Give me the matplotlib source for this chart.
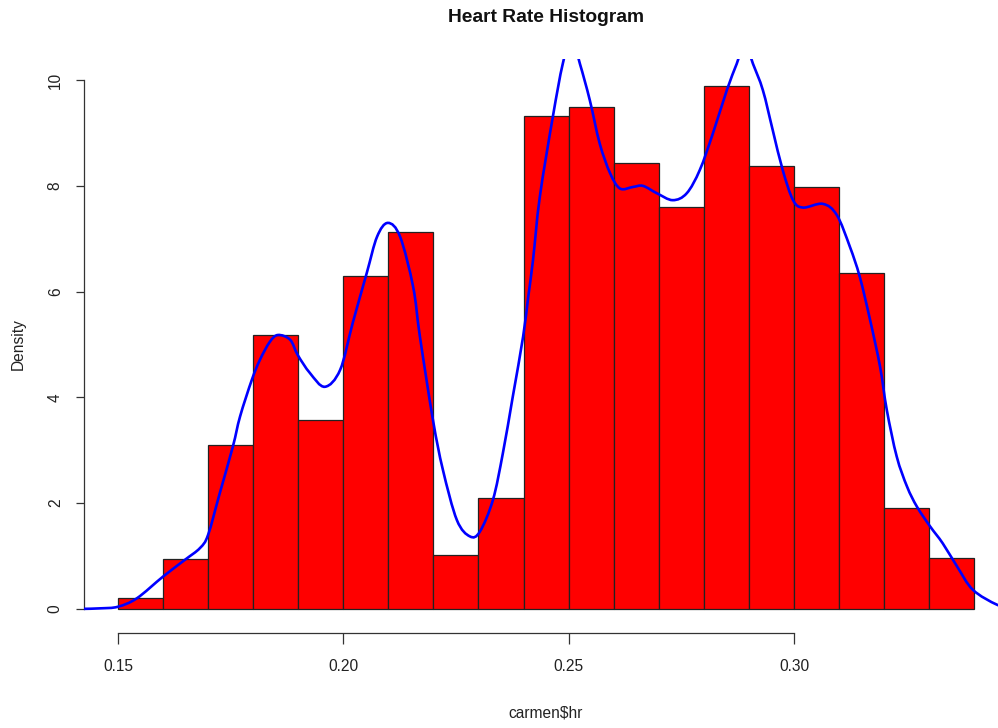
import matplotlib
matplotlib.use("Agg")
import matplotlib.pyplot as plt
from matplotlib import font_manager
from matplotlib.path import Path
from matplotlib.patches import PathPatch

# ---- data ----
bin_left = [0.15, 0.16, 0.17, 0.18, 0.19, 0.20, 0.21, 0.22, 0.23, 0.24,
            0.25, 0.26, 0.27, 0.28, 0.29, 0.30, 0.31, 0.32, 0.33]
density = [0.20, 0.95, 3.10, 5.18, 3.58, 6.30, 7.12, 1.02, 2.10, 9.32,
           9.50, 8.43, 7.60, 9.88, 8.38, 7.98, 6.36, 1.90, 0.96]
bin_width = 0.01

kde_x = [0.1424, 0.1462, 0.1500, 0.1542, 0.1600, 0.1649, 0.1682, 0.1700, 0.1726,
         0.1755, 0.1771, 0.1797, 0.1815, 0.1837, 0.1855, 0.1882, 0.1899, 0.1926,
         0.1959, 0.1993, 0.2021, 0.2052, 0.2075, 0.2099, 0.2126, 0.2155, 0.2170,
         0.2199, 0.2221, 0.2252, 0.2281, 0.2303, 0.2332, 0.2354, 0.2376, 0.2399,
         0.2410, 0.2421, 0.2436, 0.2465, 0.2487, 0.2506, 0.2525, 0.2547, 0.2569,
         0.2592, 0.2614, 0.2643, 0.2665, 0.2696, 0.2731, 0.2762, 0.2791, 0.2820,
         0.2851, 0.2873, 0.2891, 0.2909, 0.2931, 0.2953, 0.2975, 0.2998, 0.3020,
         0.3064, 0.3095, 0.3124, 0.3146, 0.3169, 0.3191, 0.3206, 0.3228, 0.3251,
         0.3273, 0.3302, 0.3330, 0.3362, 0.3397, 0.3450, 0.3480]
kde_y = [0.00, 0.01, 0.04, 0.20, 0.61, 0.93, 1.15, 1.40, 2.19,
         3.07, 3.64, 4.33, 4.71, 5.05, 5.18, 5.09, 4.80, 4.46,
         4.20, 4.52, 5.41, 6.35, 7.04, 7.30, 7.04, 6.09, 5.15,
         3.57, 2.63, 1.68, 1.37, 1.46, 2.06, 2.94, 4.01, 5.15,
         5.88, 6.60, 7.79, 9.31, 10.31, 10.80, 10.31, 9.62, 8.80,
         8.24, 7.95, 7.98, 8.00, 7.86, 7.73, 7.86, 8.30, 8.99,
         9.81, 10.31, 10.70, 10.31, 9.81, 9.05, 8.30, 7.73, 7.59,
         7.66, 7.45, 6.85, 6.28, 5.46, 4.58, 3.76, 2.88, 2.31,
         1.93, 1.56, 1.24, 0.80, 0.36, 0.08, 0.03]

x_ticks = [0.15, 0.20, 0.25, 0.30]
x_ticklabels = ["0.15", "0.20", "0.25", "0.30"]
y_ticks = [0, 2, 4, 6, 8, 10]
y_ticklabels = ["0", "2", "4", "6", "8", "10"]

title = "Heart Rate Histogram"
xlabel = "carmen$hr"
ylabel = "Density"

# ---- fonts ----
names = {f.name for f in font_manager.fontManager.ttflist}
narrow = "Liberation Sans Narrow" in names
fam = "Liberation Sans Narrow" if narrow else "Liberation Sans"
plt.rcParams["font.family"] = [fam, "DejaVu Sans"]
s = 1.0 if narrow else 0.88
tick_fs = 12.7 * s
title_fs = 16.5 * (1.0 if narrow else 0.84)
label_fs = 12.7 * s

# ---- figure ----
W, H = 998, 728
fig = plt.figure(figsize=(W / 100, H / 100), dpi=100)
ax = fig.add_axes([83.7 / W, 98 / H, (1008.5 - 83.7) / W, (630 - 59) / H])

ax.bar(bin_left, density, width=bin_width, align="edge", color="#ff0000",
       edgecolor="#222222", linewidth=0.9, zorder=2)

# smooth rendering of the density line through the read points
# (Catmull-Rom spline expressed as cubic Bezier path segments)
verts = [(kde_x[0], kde_y[0])]
codes = [Path.MOVETO]
n = len(kde_x)
for i in range(n - 1):
    x0, y0 = (kde_x[i - 1], kde_y[i - 1]) if i > 0 else (kde_x[i], kde_y[i])
    x1, y1 = kde_x[i], kde_y[i]
    x2, y2 = kde_x[i + 1], kde_y[i + 1]
    x3, y3 = (kde_x[i + 2], kde_y[i + 2]) if i + 2 < n else (x2, y2)
    c1 = (x1 + (x2 - x0) / 6, y1 + (y2 - y0) / 6)
    c2 = (x2 - (x3 - x1) / 6, y2 - (y3 - y1) / 6)
    verts += [c1, c2, (x2, y2)]
    codes += [Path.CURVE4] * 3
ax.add_patch(PathPatch(Path(verts, codes), facecolor="none",
                       edgecolor="#0000ff", linewidth=1.9, zorder=3))

ax.set_xlim(0.1424, 0.3476)
ax.set_ylim(-0.4, 10.4)

for sp in ["top", "right"]:
    ax.spines[sp].set_visible(False)
ax.spines["left"].set_bounds(0, 10)
ax.spines["bottom"].set_bounds(0.15, 0.30)
ax.spines["bottom"].set_position(("outward", 2))
for sp in ["left", "bottom"]:
    ax.spines[sp].set_color("#333333")
    ax.spines[sp].set_linewidth(0.9)

ax.set_xticks(x_ticks)
ax.set_xticklabels(x_ticklabels, fontsize=tick_fs, color="#222222")
ax.set_yticks(y_ticks)
ax.set_yticklabels(y_ticklabels, fontsize=tick_fs, rotation=90,
                   va="center", color="#222222")
ax.tick_params(axis="x", length=8, width=0.9, pad=11, color="#333333")
ax.tick_params(axis="y", length=6, width=0.9, pad=9, color="#333333")

fig.text(546 / W, 1 - 18 / H, title, ha="center", va="center",
         fontsize=title_fs, fontweight="bold", color="#111111")
fig.text(546 / W, 1 - 713 / H, xlabel, ha="center", va="center",
         fontsize=label_fs, color="#222222")
fig.text(18 / W, 1 - 344.5 / H, ylabel, ha="center", va="center",
         rotation=90, fontsize=label_fs, color="#222222")

fig.savefig("out.png", dpi=100)
